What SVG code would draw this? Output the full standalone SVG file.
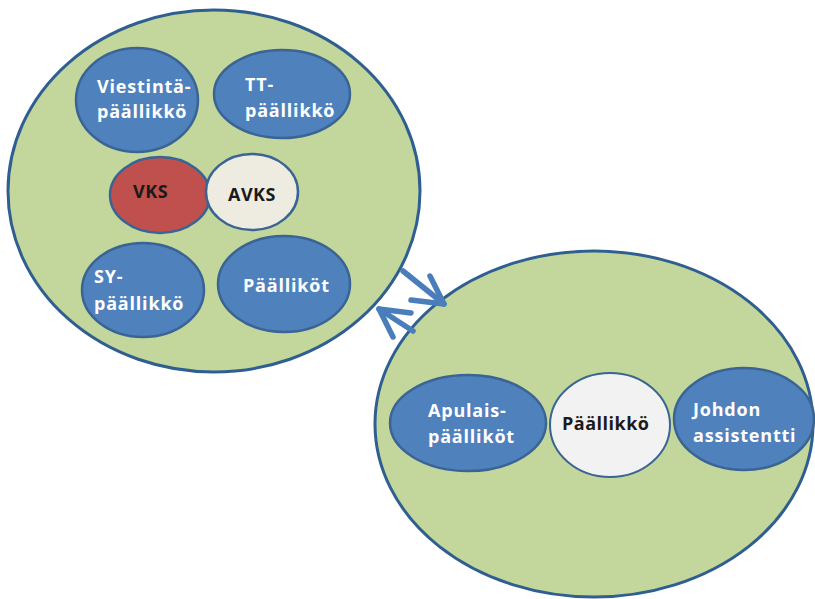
<svg xmlns="http://www.w3.org/2000/svg" width="815" height="599" viewBox="0 0 815 599">
<style>
.outer{fill:#c3d69b;stroke:#2f5f91;stroke-width:3}
.blue{fill:#4f81bd;stroke:#3a6494;stroke-width:2.5}
.red{fill:#c0504d;stroke:#3a6494;stroke-width:2.5}
.cream{fill:#eeece1;stroke:#3a6494;stroke-width:2.5}
.light{fill:#f2f2f2;stroke:#3a6494;stroke-width:2}
.wt{font-family:"Open Sans","DejaVu Sans",sans-serif;font-weight:bold;font-size:18px;letter-spacing:0.8px;fill:#ffffff}
.dt{font-family:"Open Sans","DejaVu Sans",sans-serif;font-weight:bold;font-size:18px;letter-spacing:0.5px;fill:#1a1a1a}
.arr{fill:none;stroke:#4a7ebb;stroke-width:5.5;stroke-linecap:round;stroke-linejoin:round}
</style>
<rect width="815" height="599" fill="#ffffff"/>
<g id="group-left">
<ellipse class="outer" cx="214" cy="191" rx="206" ry="181"/>
</g>
<g id="group-right">
<ellipse class="outer" cx="594" cy="424" rx="219" ry="173"/>
</g>
<g id="connectors">
<line class="arr" x1="403" y1="271" x2="444" y2="304"/>
<polyline class="arr" points="430,276 444,304 411,300"/>
<line class="arr" x1="413" y1="331" x2="379" y2="309"/>
<polyline class="arr" points="393,337 379,309 411,313"/>
</g>
<g id="viestinta">
<ellipse class="blue" cx="137" cy="100" rx="61" ry="52"/>
<text class="wt" x="97" y="93">Viestintä-</text>
<text class="wt" x="97" y="118">päällikkö</text>
</g>
<g id="tt">
<ellipse class="blue" cx="282" cy="94" rx="68" ry="44"/>
<text class="wt" x="245" y="91">TT-</text>
<text class="wt" x="245" y="117">päällikkö</text>
</g>
<g id="vks">
<ellipse class="red" cx="160" cy="195" rx="50" ry="38"/>
<text class="dt" x="133" y="198">VKS</text>
</g>
<g id="avks">
<ellipse class="cream" cx="252" cy="192" rx="46" ry="38"/>
<text class="dt" x="228" y="201">AVKS</text>
</g>
<g id="sy">
<ellipse class="blue" cx="143" cy="290" rx="61" ry="47"/>
<text class="wt" x="94" y="283">SY-</text>
<text class="wt" x="94" y="310">päällikkö</text>
</g>
<g id="paallikot">
<ellipse class="blue" cx="284" cy="284" rx="66" ry="48"/>
<text class="wt" x="243" y="292">Päälliköt</text>
</g>
<g id="apulais">
<ellipse class="blue" cx="468" cy="423" rx="78" ry="48"/>
<text class="wt" x="428" y="417">Apulais-</text>
<text class="wt" x="428" y="443">päälliköt</text>
</g>
<g id="paallikko">
<ellipse class="light" cx="610" cy="425" rx="60" ry="52"/>
<text class="dt" x="562" y="430">Päällikkö</text>
</g>
<g id="johdon">
<ellipse class="blue" cx="744" cy="419" rx="70" ry="51"/>
<text class="wt" x="693" y="416">Johdon</text>
<text class="wt" x="693" y="442">assistentti</text>
</g>
</svg>
